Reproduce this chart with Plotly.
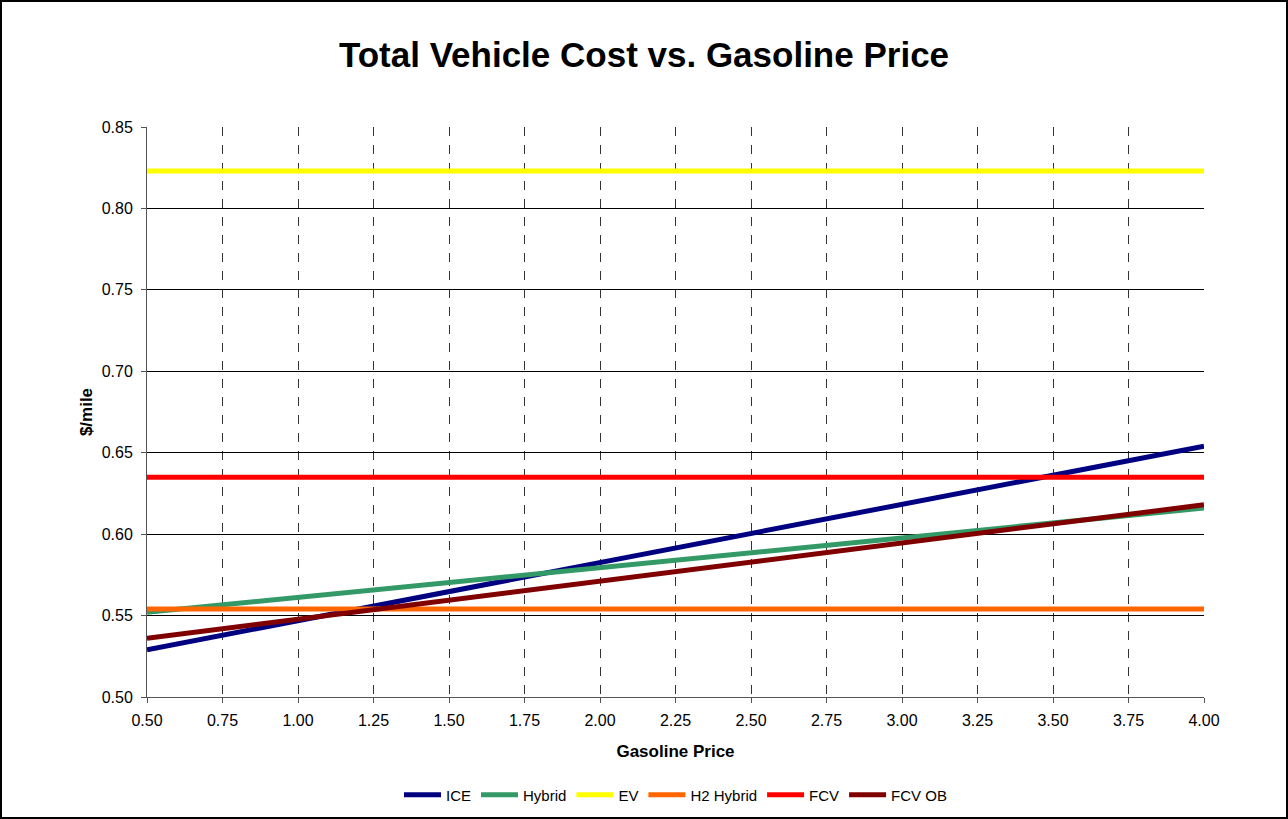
import plotly.graph_objects as go

# gasoline price ($/gal) at the two ends of the chart
gas_price = [0.50, 4.00]

ice = [0.529, 0.654]
hybrid = [0.552, 0.616]
ev = [0.823, 0.823]
h2_hybrid = [0.554, 0.554]
fcv = [0.635, 0.635]
fcv_ob = [0.536, 0.618]

series = [
    ("ICE", ice, "#000080"),
    ("Hybrid", hybrid, "#339966"),
    ("EV", ev, "#FFFF00"),
    ("H2 Hybrid", h2_hybrid, "#FF6600"),
    ("FCV", fcv, "#FF0000"),
    ("FCV OB", fcv_ob, "#800000"),
]

font_family = "Arial, Liberation Sans, sans-serif"

fig = go.Figure()
for name, vals, color in series:
    fig.add_trace(go.Scatter(x=gas_price, y=vals, mode="lines", name=name,
                             line=dict(color=color, width=5)))

# plot area in pixels: left 147, right 1204, top 127, bottom 697
pw, ph = 1057, 570
fig.add_shape(type="rect", xref="paper", yref="paper",
              x0=-146 / pw, x1=(1287 - 147) / pw,
              y0=(697 - 818) / ph, y1=(697 - 1) / ph,
              line=dict(color="black", width=2), layer="below")

fig.update_layout(
    width=1288, height=819, autosize=False,
    margin=dict(l=147, r=84, t=127, b=122, autoexpand=False),
    paper_bgcolor="white", plot_bgcolor="white",
    font=dict(family=font_family, color="black", size=16),
    title=dict(text="<b>Total Vehicle Cost vs. Gasoline Price</b>",
               x=0.5, xref="container", xanchor="center", y=1 - 55 / 819, yanchor="middle",
               font=dict(size=35, family=font_family)),
    showlegend=True,
    legend=dict(orientation="h", x=0.5, xanchor="center",
                yref="container", y=1 - 795 / 819, yanchor="middle",
                font=dict(size=15), itemwidth=37, tracegroupgap=0),
    xaxis=dict(
        title=dict(text="<b>Gasoline Price</b>", font=dict(size=17), standoff=16),
        automargin=False,
        range=[0.5, 4.0], tick0=0.5, dtick=0.25, tickformat=".2f",
        tickfont=dict(size=16), ticklabelstandoff=4,
        showgrid=True, gridcolor="#333333", griddash="dash", gridwidth=1,
        ticks="outside", ticklen=5, tickcolor="#555555",
        showline=True, linecolor="#555555", linewidth=1,
        zeroline=False,
    ),
    yaxis=dict(
        title=dict(text="<b>$/mile</b>", font=dict(size=17), standoff=4),
        automargin=False,
        range=[0.5, 0.85], tick0=0.5, dtick=0.05, tickformat=".2f",
        tickfont=dict(size=16), ticklabelstandoff=5,
        showgrid=True, gridcolor="black", gridwidth=1,
        ticks="outside", ticklen=5, tickcolor="#555555",
        showline=True, linecolor="#555555", linewidth=1,
        zeroline=False,
    ),
)

fig.write_html(
    "out.html",
    config={"displayModeBar": False, "responsive": False},
    default_width="1288px", default_height="819px",
    post_script="document.body.style.margin = '0'; document.body.style.overflow = 'hidden';",
)
